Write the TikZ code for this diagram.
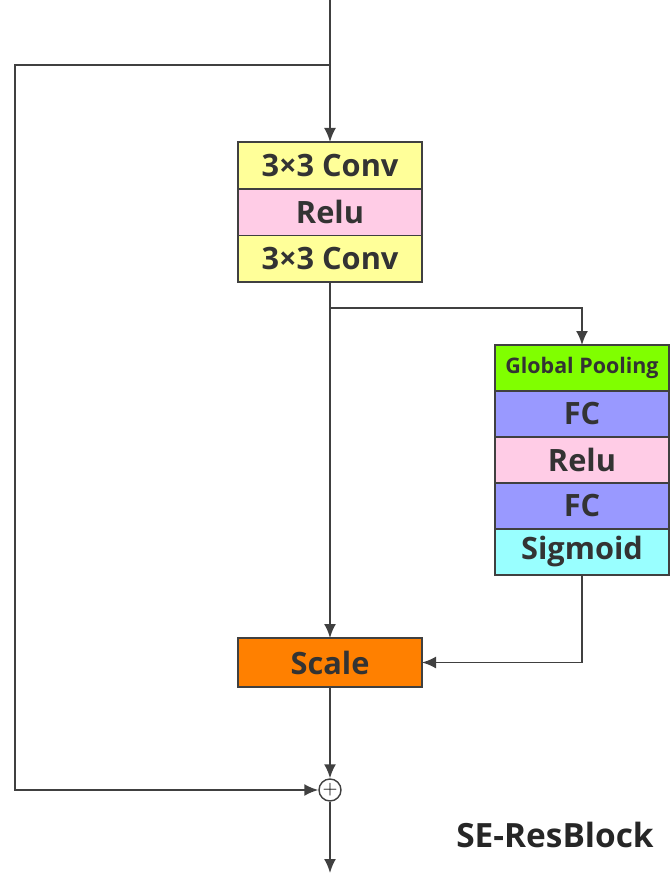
\documentclass[tikz,border=0pt]{standalone}
\usepackage{fontspec}
\setmainfont{Open Sans}
\usepackage{tikz}
\usetikzlibrary{positioning}
\usetikzlibrary{shapes,shapes.geometric,arrows.meta}
\definecolor{convcol}{HTML}{FFFF99}
\definecolor{relucol}{HTML}{FFCCE6}
\definecolor{poolcol}{HTML}{80FF00}
\definecolor{fccol}{HTML}{9999FF}
\definecolor{sigcol}{HTML}{99FFFF}
\definecolor{scalecol}{HTML}{FF8000}
\definecolor{edgecol}{HTML}{404040}
\tikzstyle{layer} = [rectangle, draw=edgecol, line width=1.1pt, text centered, inner sep=0pt, outer sep=0pt, font=\bfseries\fontsize{17.5}{17.5}\selectfont, text=black!80]
\tikzstyle{mainlayer} = [layer, minimum width=3.68cm, minimum height=0.935cm]
\tikzstyle{selayer} = [layer, minimum width=3.48cm, minimum height=0.92cm]
\tikzstyle{sumnode} = [circle, draw=edgecol, line width=0.8pt, fill=white, minimum size=0.44cm, inner sep=0pt, font=\fontsize{11}{11}\selectfont]
\tikzstyle{novertex} = [draw=none, fill=none, text centered]
\tikzstyle{line} = [draw=edgecol, line width=1.1pt, ->]
\tikzstyle{plain} = [draw=edgecol, line width=1.1pt]

\begin{document}
\begin{tikzpicture}[auto, >={Latex[length=2.8mm,width=2.4mm]}]
	\useasboundingbox (0,0) rectangle (13.4,-17.46);

	% place nodes
	\node [mainlayer, fill=convcol] (C1) at (6.6,-3.307) {3×3 Conv};
	\node [mainlayer, fill=relucol, below=0pt of C1] (R1) {Relu};
	\node [mainlayer, fill=convcol, below=0pt of R1] (C2) {3×3 Conv};

	\node [selayer, fill=poolcol, font=\bfseries\fontsize{12.2}{12.2}\selectfont] (GP) at (11.64,-7.36) {Global Pooling};
	\node [selayer, fill=fccol, below=0pt of GP]   (F1) {FC};
	\node [selayer, fill=relucol, below=0pt of F1] (R2) {Relu};
	\node [selayer, fill=fccol, below=0pt of R2]   (F2) {FC};
	\node [selayer, fill=sigcol, below=0pt of F2]  (SG) {Sigmoid};

	\node [mainlayer, fill=scalecol, minimum height=0.98cm] (SC) at (6.6,-13.25) {Scale};
	\node [sumnode] (ADD) at (6.6,-15.8) {$+$};

	\node [novertex, font=\bfseries\fontsize{19}{19}\selectfont, text=black!85] (N0) at (11.1,-16.7) {SE-ResBlock};

	% helper points
	\coordinate (IN)  at (6.6,0);
	\coordinate (S1)  at (6.6,-1.3);
	\coordinate (K1)  at (0.3,-1.3);
	\coordinate (S2)  at (6.6,-6.16);
	\coordinate (OUT) at (6.6,-17.46);

	% draw edges
	\path [line] (IN) -- (C1);
	\path [line] (S1) -- (K1) |- (ADD);
	\path [line] (C2) -- (SC);
	\path [line] (S2) -| (GP);
	\path [line] (SG) |- (SC);
	\path [line] (SC) -- (ADD);
	\path [line] (ADD) -- (OUT);
\end{tikzpicture}
\end{document}
